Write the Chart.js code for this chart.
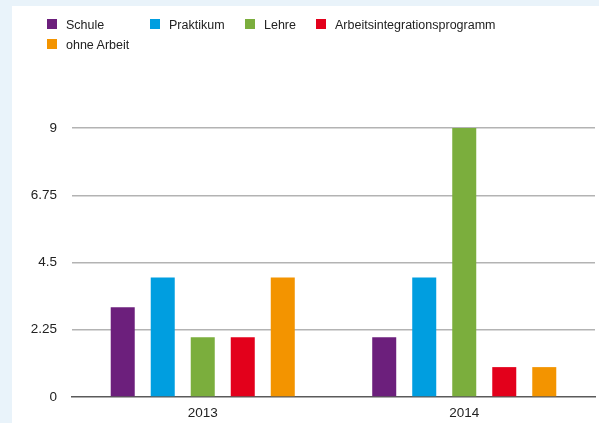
<!DOCTYPE html>
<html>
<head>
<meta charset="utf-8">
<script src="https://cdn.jsdelivr.net/npm/chart.js@4/dist/chart.umd.min.js"></script>
<style>
  html, body { margin: 0; padding: 0; }
  body { width: 599px; height: 423px; background: #e9f3fa; position: relative; overflow: hidden;
         font-family: "Liberation Sans", Arial, Helvetica, sans-serif; }
  #panel { position: absolute; left: 12px; top: 6px; right: 0; bottom: 0; background: #ffffff; }
  #wrap { position: absolute; left: 0; top: 0; width: 599px; height: 423px; }
  #legend { position: absolute; left: 0; top: 0; width: 599px; height: 60px; }
  .li { position: absolute; font-size: 12.5px; color: #222; line-height: 15px; white-space: nowrap; }
  .li .box { position: absolute; width: 10px; height: 10px; left: 0; top: 1px; }
  .li .txt { position: absolute; top: 0; }
</style>
</head>
<body>
<div id="panel"></div>
<div id="wrap"><canvas id="c" width="599" height="423"></canvas></div>
<div id="legend"></div>
<script>
const categories = ["2013", "2014"];
const seriesNames = ["Schule", "Praktikum", "Lehre", "Arbeitsintegrationsprogramm", "ohne Arbeit"];
const schule = [3, 2];
const praktikum = [4, 4];
const lehre = [2, 9];
const arbeitsintegration = [2, 1];
const ohneArbeit = [4, 1];
const yTicks = [0, 2.25, 4.5, 6.75, 9];
const colors = ["#6c1f7c", "#009ee0", "#7bae3d", "#e3001b", "#f39400"];

const seriesValues = [schule, praktikum, lehre, arbeitsintegration, ohneArbeit];

// HTML legend (positions match reference layout)
const legendPos = [[47, 18], [150, 18], [245, 18], [316, 18], [47, 38]];
const legendEl = document.getElementById('legend');
seriesNames.forEach((name, i) => {
  const d = document.createElement('div');
  d.className = 'li';
  d.style.left = legendPos[i][0] + 'px';
  d.style.top = legendPos[i][1] + 'px';
  const b = document.createElement('span');
  b.className = 'box';
  b.style.background = colors[i];
  const t = document.createElement('span');
  t.className = 'txt';
  t.style.left = '19px';
  t.textContent = name;
  d.appendChild(b); d.appendChild(t);
  legendEl.appendChild(d);
});

const font = { family: '"Liberation Sans", Arial, Helvetica, sans-serif', size: 13.5 };

new Chart(document.getElementById('c'), {
  type: 'bar',
  data: {
    labels: categories,
    datasets: seriesNames.map((name, i) => ({
      label: name,
      data: seriesValues[i],
      backgroundColor: colors[i],
      borderWidth: 0,
      categoryPercentage: 0.765,
      barPercentage: 0.6
    }))
  },
  options: {
    responsive: false,
    animation: false,
    devicePixelRatio: 1,
    layout: { padding: { left: 0, right: 4, top: 128, bottom: 0 } },
    plugins: { legend: { display: false }, tooltip: { enabled: false } },
    scales: {
      x: {
        grid: { display: false, drawTicks: false },
        border: { display: true, color: '#5a5a5a', width: 1.5 },
        ticks: { color: '#222', font: font, padding: 8 },
        afterFit: (s) => { s.height = 26; }
      },
      y: {
        min: 0, max: 9,
        afterBuildTicks: (s) => { s.ticks = yTicks.map(v => ({ value: v })); },
        grid: {
          drawTicks: false,
          color: (ctx) => ctx.tick && ctx.tick.value === 0 ? 'rgba(0,0,0,0)' : '#b3b3b3',
          lineWidth: 1.5
        },
        border: { display: false },
        ticks: { color: '#222', font: font, padding: 15, callback: (v) => String(v) },
        afterFit: (s) => { s.width = 72; }
      }
    }
  }
});
</script>
</body>
</html>
